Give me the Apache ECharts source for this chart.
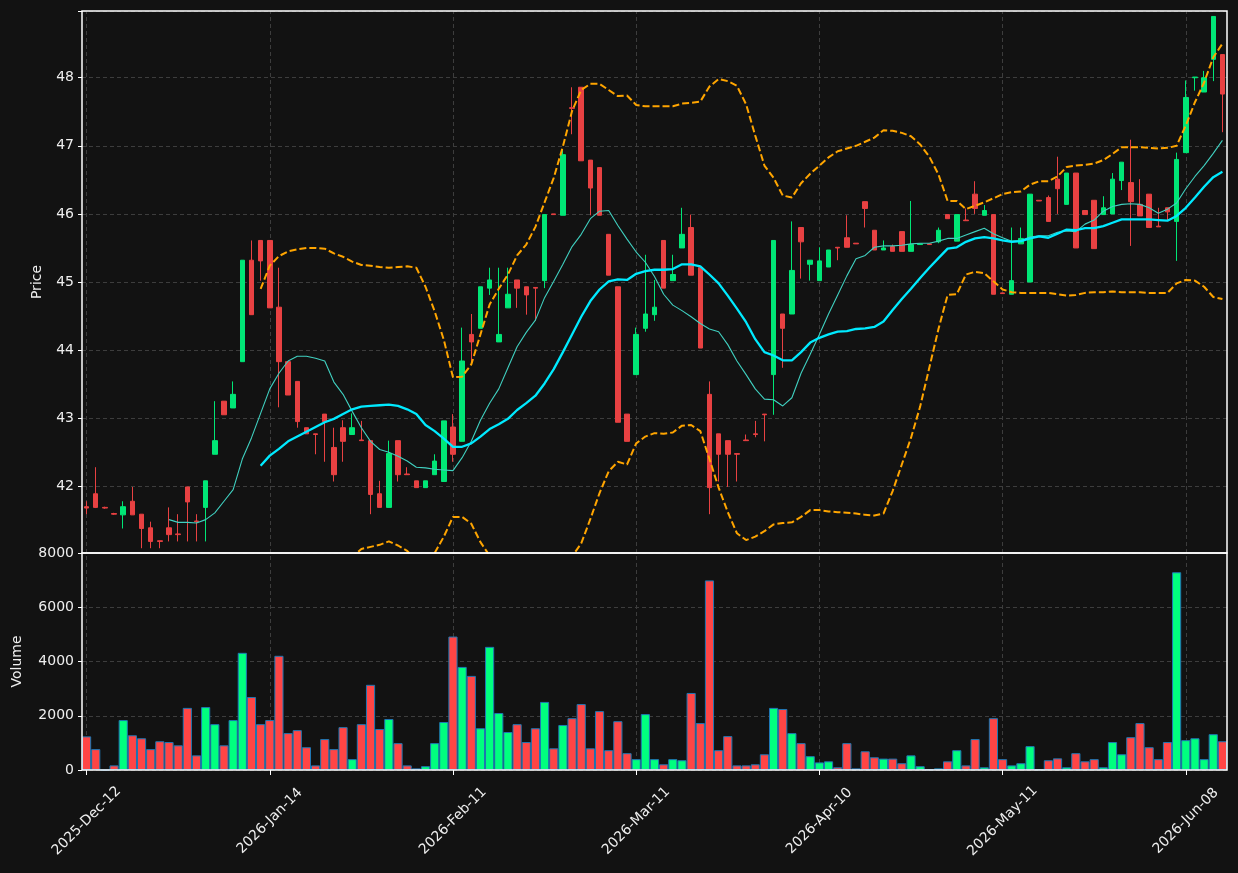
<!DOCTYPE html>
<html>
<head>
<meta charset="utf-8">
<script src="https://cdn.jsdelivr.net/npm/echarts@6/dist/echarts.min.js"></script>
<style>
  html, body { margin: 0; padding: 0; background: #121212; }
  #chart { width: 1238px; height: 873px; }
</style>
</head>
<body>
<div id="chart"></div>
<script>
// trading days, Dec 12 2025 onwards (market holidays skipped)
var holidays = ['2025-12-25', '2025-12-26', '2026-01-01', '2026-04-03', '2026-04-06', '2026-05-01'];
var monthNames = ['Jan','Feb','Mar','Apr','May','Jun','Jul','Aug','Sep','Oct','Nov','Dec'];
var tickEvery = 20;

var opens = [41.70,41.89,41.69,41.60,41.58,41.78,41.59,41.39,41.20,41.39,
  41.30,41.99,41.49,41.69,42.47,43.25,43.15,43.83,45.32,45.61,
  45.61,44.63,43.83,43.54,42.86,42.77,43.06,42.57,42.86,42.76,
  42.68,42.67,41.89,41.69,42.67,42.18,42.08,41.98,42.17,42.07,
  42.87,42.66,44.23,44.32,44.91,44.12,44.62,45.03,44.93,44.92,
  45.02,46.00,45.98,47.56,47.86,46.79,46.68,45.70,44.93,43.06,
  43.64,44.32,44.52,45.61,45.02,45.50,45.80,45.21,43.35,42.77,
  42.67,42.48,42.68,42.77,43.06,43.64,44.53,44.53,45.80,45.26,
  45.02,45.22,45.51,45.65,45.57,46.18,45.76,45.47,45.52,45.74,
  45.45,45.55,45.56,45.59,45.99,45.60,45.91,46.29,45.98,45.99,
  44.84,44.82,45.56,45.00,46.20,46.24,46.51,46.14,46.60,46.05,
  46.20,45.99,46.00,46.49,46.46,46.14,46.29,45.82,46.09,45.89,
  46.90,48.00,47.79,48.27,48.34];
var highs = [41.78,42.28,41.70,41.61,41.78,41.99,41.59,41.48,41.20,41.69,
  41.59,41.99,41.59,42.08,43.25,43.25,43.54,45.32,45.61,45.61,
  45.61,45.21,43.83,43.54,42.86,42.77,43.06,42.86,42.97,43.07,
  42.96,42.67,42.08,42.67,42.67,42.28,42.08,42.08,42.47,42.96,
  43.06,44.33,44.53,44.93,45.21,45.21,45.21,45.03,44.93,44.92,
  45.99,46.00,46.94,47.86,47.86,46.79,46.68,45.70,44.93,43.06,
  44.33,45.40,45.03,45.61,45.40,46.09,45.99,45.21,43.54,42.77,
  42.67,42.48,42.76,42.96,43.06,45.61,44.53,45.89,45.80,45.32,
  45.51,45.47,45.51,45.98,45.57,46.18,45.76,45.61,45.55,45.74,
  46.19,45.56,45.56,45.80,45.99,45.99,46.08,46.48,46.13,45.99,
  44.84,45.80,45.80,46.29,46.20,46.27,46.84,46.60,46.60,46.05,
  46.20,46.26,46.60,46.76,47.09,46.51,46.29,46.09,46.09,46.90,
  47.96,48.01,48.10,48.90,48.34];
var lows = [41.59,41.68,41.67,41.58,41.38,41.58,41.09,41.09,41.09,41.19,
  41.19,41.19,41.19,41.19,42.47,43.05,43.15,43.83,44.52,45.02,
  44.62,43.16,43.34,42.86,42.77,42.47,42.36,42.07,42.36,42.76,
  42.67,41.59,41.69,41.69,42.07,42.17,41.98,41.98,42.17,42.07,
  42.36,42.66,43.82,44.32,44.81,44.12,44.62,44.62,44.52,44.43,
  44.91,45.99,45.98,47.17,46.78,45.98,45.98,45.10,42.94,42.66,
  43.64,44.27,44.43,44.91,45.02,45.50,45.10,44.03,41.59,42.07,
  41.99,42.07,42.67,42.72,42.66,43.05,43.74,44.53,45.05,45.02,
  45.02,45.22,45.32,45.51,45.56,45.80,45.47,45.47,45.45,45.45,
  45.45,45.55,45.55,45.57,45.93,45.60,45.90,46.00,45.98,44.82,
  44.83,44.82,45.56,45.00,46.19,45.89,46.00,46.14,45.50,45.99,
  45.49,45.99,46.00,46.35,45.53,45.97,45.80,45.81,45.91,45.31,
  46.90,47.81,47.79,47.95,47.20];
var closes = [41.68,41.69,41.68,41.59,41.70,41.58,41.38,41.19,41.19,41.29,
  41.29,41.77,41.48,42.08,42.67,43.05,43.35,45.32,44.52,45.31,
  44.62,43.83,43.34,42.95,42.77,42.76,42.95,42.17,42.66,42.86,
  42.67,41.88,41.69,42.48,42.17,42.17,41.98,42.08,42.37,42.96,
  42.47,43.84,44.12,44.93,45.03,44.23,44.82,44.91,44.81,44.91,
  45.99,45.99,46.87,47.55,46.78,46.38,45.98,45.10,42.94,42.66,
  44.23,44.53,44.63,44.91,45.11,45.70,45.10,44.03,41.98,42.47,
  42.47,42.47,42.67,42.76,43.05,45.61,44.32,45.17,45.59,45.32,
  45.31,45.47,45.50,45.51,45.56,46.08,45.47,45.50,45.45,45.45,
  45.55,45.56,45.55,45.76,45.93,45.99,45.90,46.08,46.05,44.82,
  44.83,45.02,45.64,46.29,46.19,45.89,46.37,46.60,45.50,45.99,
  45.49,46.09,46.51,46.76,46.18,45.97,45.80,45.81,46.03,46.80,
  47.71,48.01,48.00,48.90,47.76];
var volumes = [1240,770,0,170,1840,1280,1170,770,1060,1030,
  910,2290,540,2320,1690,910,1840,4320,2690,1690,
  1840,4210,1360,1470,840,170,1140,770,1580,400,
  1690,3140,1510,1880,990,170,60,140,990,1770,
  4920,3800,3470,1540,4540,2100,1400,1690,1030,1540,
  2510,800,1660,1910,2430,800,2170,730,1800,620,
  400,2060,400,210,400,360,2840,1730,6990,730,
  1250,170,170,210,580,2290,2250,1360,990,510,
  280,320,100,990,60,690,470,420,420,250,
  540,140,25,60,320,730,170,1140,100,1910,
  400,170,250,880,25,360,430,100,620,320,
  400,100,1030,580,1210,1730,840,400,1030,7290,
  1100,1170,400,1320,1060];

// moving averages and bands (null where not drawn)
var ma10 = [null,null,null,null,null,null,null,null,null,41.51,
  41.47,41.47,41.46,41.51,41.61,41.78,41.95,42.40,42.71,43.07,
  43.43,43.66,43.84,43.91,43.91,43.88,43.84,43.53,43.35,43.10,
  42.86,42.66,42.54,42.50,42.44,42.37,42.28,42.27,42.25,42.24,
  42.23,42.42,42.66,42.97,43.22,43.43,43.74,44.05,44.26,44.44,
  44.77,45.01,45.26,45.52,45.70,45.93,46.04,46.05,45.83,45.63,
  45.44,45.29,45.08,44.82,44.66,44.58,44.49,44.39,44.31,44.27,
  44.08,43.84,43.64,43.43,43.28,43.27,43.18,43.30,43.66,43.94,
  44.23,44.53,44.81,45.09,45.34,45.39,45.51,45.53,45.53,45.54,
  45.56,45.57,45.57,45.60,45.64,45.64,45.69,45.74,45.79,45.71,
  45.65,45.60,45.61,45.66,45.68,45.68,45.73,45.75,45.74,45.85,
  45.91,46.04,46.11,46.14,46.15,46.14,46.09,46.01,46.07,46.16,
  46.37,46.55,46.71,46.89,47.08];
var ma20 = [null,null,null,null,null,null,null,null,null,null,
  null,null,null,null,null,null,null,null,null,42.30,
  42.45,42.55,42.66,42.73,42.80,42.87,42.94,42.99,43.06,43.13,
  43.17,43.18,43.19,43.20,43.18,43.13,43.06,42.90,42.81,42.70,
  42.58,42.58,42.63,42.73,42.84,42.91,42.99,43.12,43.22,43.33,
  43.51,43.72,43.97,44.23,44.49,44.72,44.89,45.01,45.04,45.03,
  45.12,45.16,45.18,45.18,45.19,45.26,45.26,45.23,45.11,44.98,
  44.80,44.61,44.41,44.16,43.97,43.92,43.85,43.85,43.97,44.11,
  44.18,44.23,44.27,44.28,44.31,44.32,44.34,44.42,44.59,44.75,
  44.90,45.06,45.21,45.35,45.49,45.51,45.59,45.64,45.66,45.64,
  45.61,45.59,45.60,45.64,45.67,45.65,45.71,45.77,45.76,45.79,
  45.79,45.82,45.87,45.92,45.92,45.92,45.92,45.91,45.90,45.97,
  46.09,46.24,46.40,46.54,46.62];
var bbUpper = [null,null,null,null,null,null,null,null,null,null,
  null,null,null,null,null,null,null,null,null,44.90,
  45.24,45.38,45.45,45.48,45.50,45.50,45.49,45.42,45.37,45.30,
  45.25,45.24,45.22,45.21,45.22,45.23,45.21,44.93,44.57,44.15,
  43.60,43.61,43.79,44.23,44.67,44.90,45.11,45.39,45.55,45.81,
  46.17,46.53,46.99,47.51,47.82,47.91,47.91,47.82,47.73,47.74,
  47.60,47.58,47.58,47.58,47.58,47.62,47.63,47.65,47.87,47.98,
  47.95,47.88,47.61,47.15,46.71,46.53,46.27,46.24,46.45,46.59,
  46.71,46.83,46.92,46.96,47.00,47.06,47.12,47.23,47.22,47.19,
  47.14,47.02,46.84,46.58,46.19,46.19,46.07,46.12,46.17,46.23,
  46.29,46.32,46.33,46.43,46.48,46.48,46.55,46.69,46.71,46.72,
  46.74,46.79,46.88,46.98,46.98,46.98,46.97,46.96,46.97,47.00,
  47.30,47.64,47.93,48.30,48.50];
var bbLower = [null,null,null,null,null,null,null,null,null,null,
  null,null,null,null,null,null,null,null,null,39.70,
  39.66,39.72,39.87,39.98,40.10,40.24,40.39,40.56,40.75,40.96,
  41.08,41.11,41.14,41.19,41.13,41.05,40.91,40.87,41.02,41.26,
  41.55,41.55,41.45,41.18,40.98,40.92,40.87,40.85,40.89,40.85,
  40.85,40.91,40.95,40.97,41.16,41.52,41.90,42.22,42.36,42.32,
  42.63,42.73,42.78,42.77,42.79,42.89,42.90,42.81,42.40,41.98,
  41.62,41.31,41.21,41.26,41.34,41.44,41.46,41.47,41.55,41.65,
  41.65,41.63,41.62,41.61,41.60,41.58,41.57,41.60,41.93,42.32,
  42.71,43.17,43.74,44.31,44.81,44.82,45.11,45.15,45.13,45.01,
  44.89,44.85,44.84,44.84,44.84,44.84,44.82,44.80,44.81,44.84,
  44.85,44.85,44.86,44.85,44.85,44.85,44.84,44.84,44.84,44.98,
  45.03,45.02,44.93,44.78,44.75];

var priceMin = 41.02, priceMax = 48.98;
var volMax = 8000, volStep = 2000;

var upColor = '#00e676', downColor = '#e84142';
var volUp = '#00ff7f', volDown = '#ff4545';
var textColor = '#eeeeee';
var gridColor = '#3d3d3d';

// build the date labels
var categories = [];
var d = new Date(Date.UTC(2025, 11, 12));
while (categories.length < closes.length) {
    var wd = d.getUTCDay();
    var iso = d.toISOString().slice(0, 10);
    if (wd !== 0 && wd !== 6 && holidays.indexOf(iso) < 0) {
        var dd = ('0' + d.getUTCDate()).slice(-2);
        categories.push(d.getUTCFullYear() + '-' + monthNames[d.getUTCMonth()] + '-' + dd);
    }
    d.setUTCDate(d.getUTCDate() + 1);
}

var candleData = [];
var volData = [];
var tickLines = [];
for (var i = 0; i < closes.length; i++) {
    candleData.push([opens[i], closes[i], lows[i], highs[i]]);
    volData.push({
        value: volumes[i],
        itemStyle: { color: closes[i] >= opens[i] ? volUp : volDown }
    });
    if (i % tickEvery === 0) tickLines.push({ xAxis: i });
}

function onTick(idx) { return idx % tickEvery === 0; }

// vertical dashed grid lines through the centre of the ticked candles
var vGrid = {
    silent: true, symbol: 'none', label: { show: false },
    lineStyle: { color: gridColor, type: [4, 3], width: 1 },
    emphasis: { disabled: true },
    data: tickLines, z: 0
};

var myChart = echarts.init(document.getElementById('chart'));
myChart.setOption({
    animation: false,
    backgroundColor: '#121212',
    grid: [
        { left: 82, top: 11, width: 1145, height: 542, show: true, z: 10, borderColor: '#ffffff', borderWidth: 1.5, backgroundColor: 'transparent' },
        { left: 82, top: 553, width: 1145, height: 217, show: true, z: 10, borderColor: '#ffffff', borderWidth: 1.5, backgroundColor: 'transparent' }
    ],
    xAxis: [
        {
            type: 'category', gridIndex: 0, data: categories, boundaryGap: true,
            axisLine: { show: false }, axisTick: { show: false }, axisLabel: { show: false },
            splitLine: { show: false }
        },
        {
            type: 'category', gridIndex: 1, data: categories, boundaryGap: true,
            axisLine: { show: false },
            axisTick: { show: true, interval: onTick, alignWithLabel: true, length: 5, lineStyle: { color: '#ffffff' } },
            axisLabel: {
                show: true, interval: onTick, rotate: 45, align: 'center', verticalAlign: 'middle',
                margin: 51, color: textColor, fontSize: 14, fontFamily: 'DejaVu Sans'
            },
            splitLine: { show: false }
        }
    ],
    yAxis: [
        {
            type: 'value', gridIndex: 0, min: priceMin, max: priceMax, splitNumber: 8, scale: true,
            name: 'Price', nameLocation: 'middle', nameGap: 38,
            nameTextStyle: { color: textColor, fontSize: 14, fontFamily: 'DejaVu Sans' },
            axisLine: { show: false },
            axisTick: { show: true, length: 4, lineStyle: { color: '#ffffff' } },
            axisLabel: {
                color: textColor, fontSize: 14, fontFamily: 'DejaVu Sans', margin: 8,
                formatter: function (v) { return Math.abs(v - Math.round(v)) < 1e-6 ? String(Math.round(v)) : ''; }
            },
            splitLine: { show: true, lineStyle: { color: gridColor, type: [4, 3] } }
        },
        {
            type: 'value', gridIndex: 1, min: 0, max: volMax, interval: volStep,
            name: 'Volume', nameLocation: 'middle', nameGap: 58,
            nameTextStyle: { color: textColor, fontSize: 14, fontFamily: 'DejaVu Sans' },
            axisLine: { show: false },
            axisTick: { show: true, length: 4, lineStyle: { color: '#ffffff' } },
            axisLabel: {
                color: textColor, fontSize: 14, fontFamily: 'DejaVu Sans', margin: 8,
                formatter: function (v) { return String(v); }
            },
            splitLine: { show: true, lineStyle: { color: gridColor, type: [4, 3] } }
        }
    ],
    series: [
        {
            type: 'candlestick', xAxisIndex: 0, yAxisIndex: 0, data: candleData, barWidth: 5,
            itemStyle: { color: upColor, color0: downColor, borderColor: upColor, borderColor0: downColor, borderWidth: 1 },
            markLine: vGrid
        },
        {
            type: 'line', xAxisIndex: 0, yAxisIndex: 0, data: ma10, symbol: 'none',
            lineStyle: { color: '#40d0c0', width: 1.1 }
        },
        {
            type: 'line', xAxisIndex: 0, yAxisIndex: 0, data: ma20, symbol: 'none',
            lineStyle: { color: '#00eaff', width: 2.3 }
        },
        {
            type: 'line', xAxisIndex: 0, yAxisIndex: 0, data: bbUpper, symbol: 'none',
            lineStyle: { color: '#ffa500', width: 2, type: [7, 3] }
        },
        {
            type: 'line', xAxisIndex: 0, yAxisIndex: 0, data: bbLower, symbol: 'none',
            lineStyle: { color: '#ffa500', width: 2, type: [7, 3] }
        },
        {
            type: 'bar', xAxisIndex: 1, yAxisIndex: 1, data: volData, barCategoryGap: '0%',
            itemStyle: { borderColor: '#1f77b4', borderWidth: 1 },
            markLine: vGrid
        }
    ]
});
</script>
</body>
</html>
